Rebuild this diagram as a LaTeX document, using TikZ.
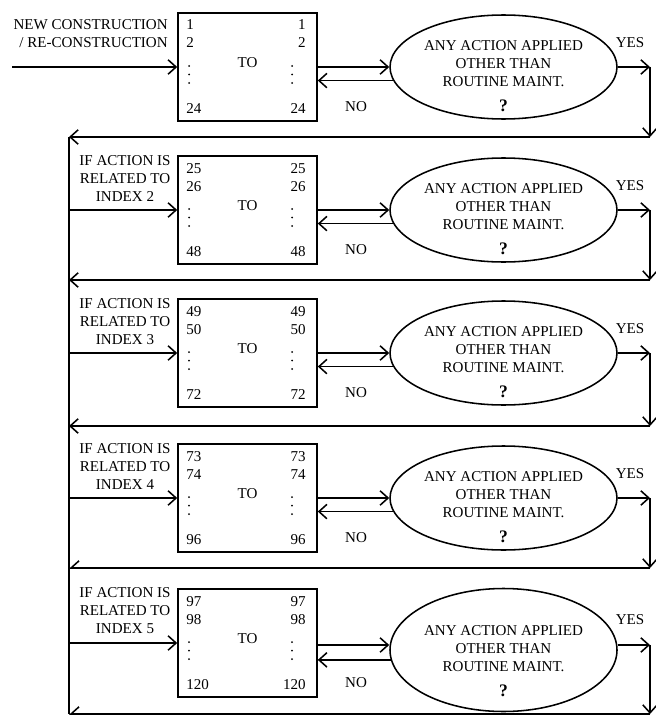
\documentclass[tikz,border=0pt]{standalone}
\usepackage{fontspec}
\setmainfont{Liberation Serif}
\usetikzlibrary{shapes.geometric, arrows.meta}
\newcommand{\domanda}{\textbf{\fontsize{12.5}{13}\selectfont ?}}
\tikzset{
  blocco/.style  = {rectangle, draw, line width=1.1pt, minimum width=34.75mm, minimum height=27mm, inner sep=0},
  scelta/.style  = {ellipse, draw, line width=1.1pt, minimum width=56.75mm, minimum height=26mm, inner sep=0},
  et/.style      = {inner sep=0},
  testo/.style   = {inner sep=0, align=center},
  linea/.style   = {line width=1.1pt},
  freccia/.style = {linea, -{Straight Barb[length=2mm, width=3.6mm]}},
  mezza/.style   = {linea, -{Straight Barb[length=2mm, width=3.6mm, harpoon, swap]}}
}
\begin{document}
\begin{tikzpicture}[x=0.25mm, y=-0.25mm, font=\fontsize{10.7}{12.8}\selectfont]
  \useasboundingbox (0,0) rectangle (656,716);
  % riga 1: nuova costruzione
  \node[blocco] (B1) at (247.5,67) {}; \node[scelta] (E1) at (503.5,67) {};
  \node[et, anchor=base west] (a1) at (186,30) {1}; \node[et, anchor=base west] (b1) at (186,48) {2}; \node[et, anchor=base west] (c1) at (186,113) {24};
  \node[et, anchor=base east] (d1) at (306,30) {1}; \node[et, anchor=base east] (f1) at (306,48) {2}; \node[et, anchor=base east] (g1) at (306,113) {24};
  \fill (189,66) circle (0.25mm) (189,74.5) circle (0.25mm) (189,83) circle (0.25mm) (292,66) circle (0.25mm) (292,74.5) circle (0.25mm) (292,83) circle (0.25mm);
  \node[et] (t1) at ([yshift=1mm]B1.center) {TO};
  \node[testo] (v1) at ([yshift=-2.25mm]E1.center) {ANY ACTION APPLIED\\OTHER THAN\\ROUTINE MAINT.\\[1.8mm]\domanda};
  \node[testo, anchor=east, align=right] (L1) at (168,34) {NEW CONSTRUCTION\\/ RE-CONSTRUCTION};
  \node[et] (si1) at (630,43) {YES}; \node[et] (no1) at (356,107) {NO};
  \coordinate (s1) at (12,67); \coordinate (r1) at (650,67); \coordinate (h1) at (650,137); \coordinate (l1) at (69,137);
  \draw[freccia] (s1) -- (B1.west); \draw[freccia] (B1.east) -- (E1.west); \draw[freccia] (E1.187) -- (E1.187 -| B1.east);
  \draw[freccia] (E1.east) -- (r1); \draw[freccia] (r1) -- (h1); \draw[freccia] (h1) -- (l1);

  % riga 2: indice 2
  \node[blocco] (B2) at (247.5,210) {}; \node[scelta] (E2) at (503.5,210) {};
  \node[et, anchor=base west] (a2) at (186,173) {25}; \node[et, anchor=base west] (b2) at (186,191) {26}; \node[et, anchor=base west] (c2) at (186,256) {48};
  \node[et, anchor=base east] (d2) at (306,173) {25}; \node[et, anchor=base east] (f2) at (306,191) {26}; \node[et, anchor=base east] (g2) at (306,256) {48};
  \fill (189,209) circle (0.25mm) (189,217.5) circle (0.25mm) (189,226) circle (0.25mm) (292,209) circle (0.25mm) (292,217.5) circle (0.25mm) (292,226) circle (0.25mm);
  \node[et] (t2) at ([yshift=1mm]B2.center) {TO};
  \node[testo] (v2) at ([yshift=-2.25mm]E2.center) {ANY ACTION APPLIED\\OTHER THAN\\ROUTINE MAINT.\\[1.8mm]\domanda};
  \node[testo] (L2) at (125,179) {IF ACTION IS\\RELATED TO\\INDEX 2};
  \node[et] (si2) at (630,186) {YES}; \node[et] (no2) at (356,250) {NO};
  \coordinate (r2) at (650,210); \coordinate (h2) at (650,280); \coordinate (l2) at (69,280);
  \draw[freccia] (l1 |- B2.west) -- (B2.west); \draw[freccia] (B2.east) -- (E2.west); \draw[freccia] (E2.187) -- (E2.187 -| B2.east);
  \draw[freccia] (E2.east) -- (r2); \draw[freccia] (r2) -- (h2); \draw[freccia] (h2) -- (l2);

  % riga 3: indice 3
  \node[blocco] (B3) at (247.5,353) {}; \node[scelta] (E3) at (503.5,353) {};
  \node[et, anchor=base west] (a3) at (186,316) {49}; \node[et, anchor=base west] (b3) at (186,334) {50}; \node[et, anchor=base west] (c3) at (186,399) {72};
  \node[et, anchor=base east] (d3) at (306,316) {49}; \node[et, anchor=base east] (f3) at (306,334) {50}; \node[et, anchor=base east] (g3) at (306,399) {72};
  \fill (189,352) circle (0.25mm) (189,360.5) circle (0.25mm) (189,369) circle (0.25mm) (292,352) circle (0.25mm) (292,360.5) circle (0.25mm) (292,369) circle (0.25mm);
  \node[et] (t3) at ([yshift=1mm]B3.center) {TO};
  \node[testo] (v3) at ([yshift=-2.25mm]E3.center) {ANY ACTION APPLIED\\OTHER THAN\\ROUTINE MAINT.\\[1.8mm]\domanda};
  \node[testo] (L3) at (125,322) {IF ACTION IS\\RELATED TO\\INDEX 3};
  \node[et] (si3) at (630,329) {YES}; \node[et] (no3) at (356,393) {NO};
  \coordinate (r3) at (650,353); \coordinate (h3) at (650,426); \coordinate (l3) at (69,426);
  \draw[freccia] (l1 |- B3.west) -- (B3.west); \draw[freccia] (B3.east) -- (E3.west); \draw[freccia] (E3.187) -- (E3.187 -| B3.east);
  \draw[freccia] (E3.east) -- (r3); \draw[freccia] (r3) -- (h3); \draw[freccia] (h3) -- (l3);

  % riga 4: indice 4
  \node[blocco] (B4) at (247.5,498) {}; \node[scelta] (E4) at (503.5,498) {};
  \node[et, anchor=base west] (a4) at (186,461) {73}; \node[et, anchor=base west] (b4) at (186,479) {74}; \node[et, anchor=base west] (c4) at (186,544) {96};
  \node[et, anchor=base east] (d4) at (306,461) {73}; \node[et, anchor=base east] (f4) at (306,479) {74}; \node[et, anchor=base east] (g4) at (306,544) {96};
  \fill (189,497) circle (0.25mm) (189,505.5) circle (0.25mm) (189,514) circle (0.25mm) (292,497) circle (0.25mm) (292,505.5) circle (0.25mm) (292,514) circle (0.25mm);
  \node[et] (t4) at ([yshift=1mm]B4.center) {TO};
  \node[testo] (v4) at ([yshift=-2.25mm]E4.center) {ANY ACTION APPLIED\\OTHER THAN\\ROUTINE MAINT.\\[1.8mm]\domanda};
  \node[testo] (L4) at (125,467) {IF ACTION IS\\RELATED TO\\INDEX 4};
  \node[et] (si4) at (630,474) {YES}; \node[et] (no4) at (356,538) {NO};
  \coordinate (r4) at (650,498); \coordinate (h4) at (650,568); \coordinate (l4) at (69,568);
  \draw[freccia] (l1 |- B4.west) -- (B4.west); \draw[freccia] (B4.east) -- (E4.west); \draw[freccia] (E4.187) -- (E4.187 -| B4.east);
  \draw[freccia] (E4.east) -- (r4); \draw[freccia] (r4) -- (h4); \draw[mezza] (h4) -- (l4);

  % riga 5: indice 5
  \node[blocco] (B5) at (247.5,643) {}; \node[scelta, minimum height=30.75mm] (E5) at (503.5,650) {};
  \node[et, anchor=base west] (a5) at (186,606) {97}; \node[et, anchor=base west] (b5) at (186,624) {98}; \node[et, anchor=base west] (c5) at (186,689) {120};
  \node[et, anchor=base east] (d5) at (306,606) {97}; \node[et, anchor=base east] (f5) at (306,624) {98}; \node[et, anchor=base east] (g5) at (306,689) {120};
  \fill (189,642) circle (0.25mm) (189,650.5) circle (0.25mm) (189,659) circle (0.25mm) (292,642) circle (0.25mm) (292,650.5) circle (0.25mm) (292,659) circle (0.25mm);
  \node[et] (t5) at ([yshift=1mm]B5.center) {TO};
  \node[testo] (v5) at ([yshift=-2.75mm]E5.center) {ANY ACTION APPLIED\\OTHER THAN\\ROUTINE MAINT.\\[1.8mm]\domanda};
  \node[testo] (L5) at (125,611) {IF ACTION IS\\RELATED TO\\INDEX 5};
  \node[et] (si5) at (630,620) {YES}; \node[et] (no5) at (356,683) {NO};
  \coordinate (r5) at (650,645); \coordinate (h5) at (650,714); \coordinate (l5) at (69,714);
  \draw[freccia] (l1 |- B5.west) -- (B5.west); \draw[freccia] (B5.east |- r5) -- (E5.west |- r5); \draw[freccia] (E5.185) -- (E5.185 -| B5.east);
  \draw[freccia] (E5.east |- r5) -- (r5); \draw[freccia] (r5) -- (h5); \draw[mezza] (h5) -- (l5);

  % linea di ritorno a sinistra
  \draw[linea] (l1) -- (l5);
\end{tikzpicture}
\end{document}
